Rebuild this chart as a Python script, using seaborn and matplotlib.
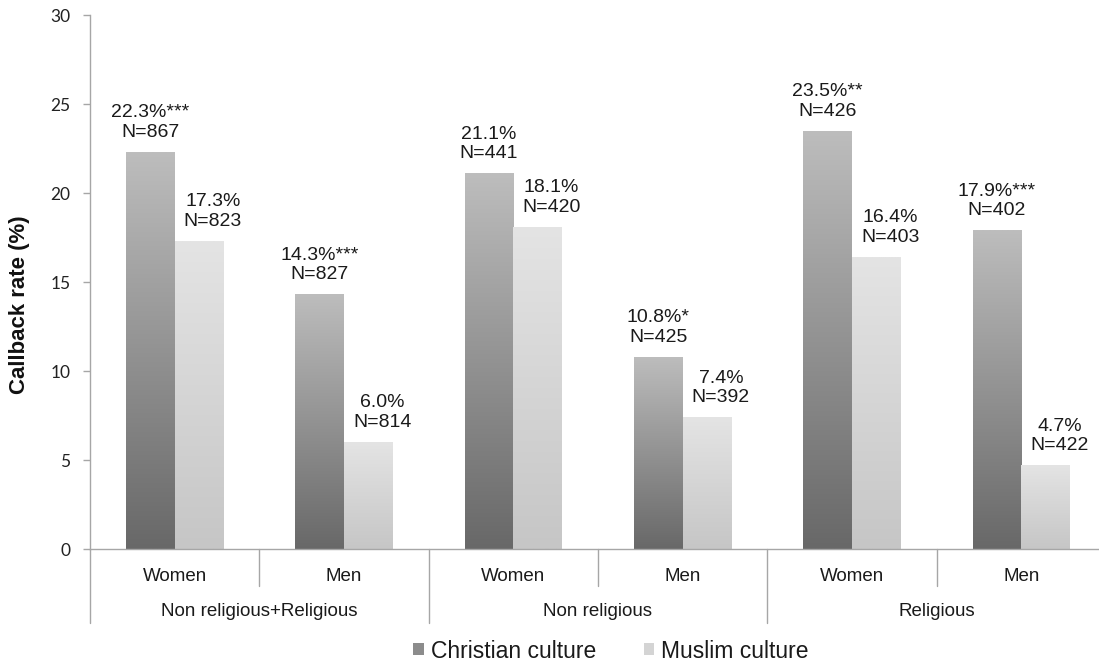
import numpy as np
import pandas as pd
import matplotlib
matplotlib.use("Agg")
import matplotlib.pyplot as plt
import matplotlib.transforms as mtransforms
from matplotlib.patches import Patch
from matplotlib.colors import LinearSegmentedColormap
import seaborn as sns

# ---- data ----
genders = ["Women", "Men", "Women", "Men", "Women", "Men"]
groups = ["Non religious+Religious", "Non religious", "Religious"]
christian = [22.3, 14.3, 21.1, 10.8, 23.5, 17.9]
muslim = [17.3, 6.0, 18.1, 7.4, 16.4, 4.7]
christian_n = [867, 827, 441, 425, 426, 402]
muslim_n = [823, 814, 420, 392, 403, 422]
christian_sig = ["***", "***", "", "*", "**", "***"]
muslim_sig = ["", "", "", "", "", ""]
series = ["Christian culture", "Muslim culture"]
yticks = [0, 5, 10, 15, 20, 25, 30]

slots = [f"{i}" for i in range(len(genders))]
df = pd.DataFrame({
    "slot": slots * 2,
    "rate": christian + muslim,
    "culture": [series[0]] * 6 + [series[1]] * 6,
})

sns.set_theme(style="white")
plt.rcParams["font.family"] = ["Liberation Sans", "DejaVu Sans"]

W, H = 1099, 667
fig = plt.figure(figsize=(W / 100, H / 100), dpi=100)
ax = fig.add_axes([90 / W, 1 - 549 / H, 1016 / W, 534 / H])

sns.barplot(data=df, x="slot", y="rate", hue="culture", order=slots,
            hue_order=series, width=0.575, palette=["#8c8c8c", "#d4d4d4"],
            ax=ax, legend=False, errorbar=None)

cmaps = [
    LinearSegmentedColormap.from_list("chr", ["#686868", "#bdbdbd"]),
    LinearSegmentedColormap.from_list("mus", ["#c6c6c6", "#e4e4e4"]),
]
grad = np.linspace(0, 1, 256).reshape(-1, 1)
for ci, cont in enumerate(ax.containers):
    for bar in cont:
        x0 = bar.get_x()
        w = bar.get_width()
        h = bar.get_height()
        bar.set_facecolor("none")
        bar.set_edgecolor("none")
        im = ax.imshow(grad, extent=[x0, x0 + w, 0, h], origin="lower",
                       aspect="auto", cmap=cmaps[ci], zorder=2,
                       interpolation="bilinear")
        im.set_clip_path(bar)

ax.set_ylim(0, 30)
ax.set_xlim(-0.5, 5.5)

# annotations
vals = [christian, muslim]
ns = [christian_n, muslim_n]
sigs = [christian_sig, muslim_sig]
xoffs = [0, 10]
for ci, cont in enumerate(ax.containers):
    for j, bar in enumerate(cont):
        xc = bar.get_x() + bar.get_width() / 2
        h = bar.get_height()
        first = f"{vals[ci][j]:.1f}%{sigs[ci][j]}"
        ax.annotate(f"{first}\nN={ns[ci][j]}", xy=(xc, h),
                    xytext=(xoffs[ci], 8), textcoords="offset points",
                    ha="center", va="bottom", fontsize=14,
                    color="#1a1a1a", linespacing=1.2, multialignment="center")

# axes styling
for s in ["top", "right"]:
    ax.spines[s].set_visible(False)
for s in ["left", "bottom"]:
    ax.spines[s].set_color("#a6a6a6")
    ax.spines[s].set_linewidth(1.0)

ax.set_yticks(yticks)
ax.set_yticklabels([str(t) for t in yticks], fontfamily="Lato", fontsize=12.5,
                   color="#222222")
ax.tick_params(axis="y", left=True, length=5, width=1, color="#a6a6a6", pad=9)
ax.set_xticks(range(len(genders)))
ax.set_xticklabels(genders, fontsize=13.5, color="#1a1a1a")
ax.tick_params(axis="x", bottom=False, length=0, pad=14)
ax.set_xlabel("")
ax.set_ylabel("")

# separators below the axis
trans = mtransforms.blended_transform_factory(ax.transData, ax.transAxes)
for x in [0.5, 2.5, 4.5]:
    ax.plot([x, x], [0, -37 / 534], transform=trans, color="#a6a6a6",
            lw=1.0, clip_on=False)
for x in [-0.5, 1.5, 3.5, 5.5]:
    ax.plot([x, x], [0, -74 / 534], transform=trans, color="#a6a6a6",
            lw=1.0, clip_on=False)
for gi, g in enumerate(groups):
    ax.text(2 * gi + 0.5, -63 / 534, g, transform=trans, ha="center",
            va="center", fontsize=13.5, color="#1a1a1a")

fig.text(20 / W, 1 - 305 / H, "Callback rate (%)", rotation=90,
         ha="center", va="center", fontsize=16, fontweight="bold",
         color="#111111")

handles = [Patch(facecolor="#8c8c8c", edgecolor="none"),
           Patch(facecolor="#d4d4d4", edgecolor="none")]
fig.legend(handles, series, loc="center", ncol=2,
           bbox_to_anchor=(611 / W, 1 - 651 / H), frameon=False,
           fontsize=16.5, handlelength=0.45, handleheight=0.45,
           handletextpad=0.3, columnspacing=2.1, labelcolor="#1a1a1a")

fig.savefig("out.png", dpi=100)
